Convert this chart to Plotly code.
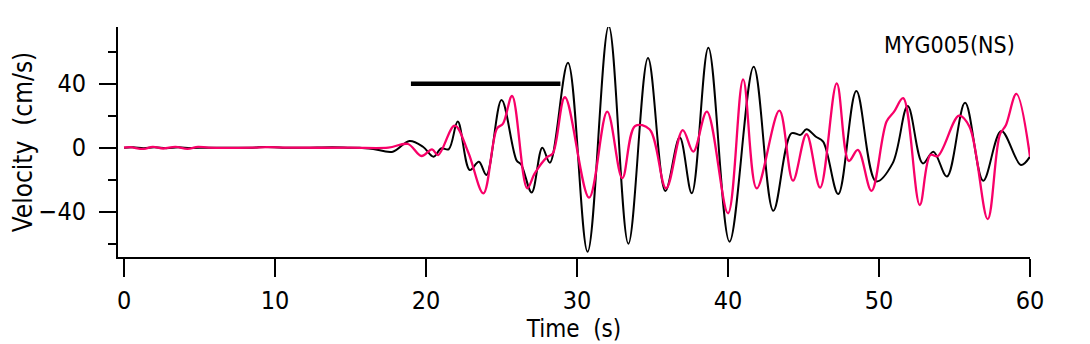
import plotly.graph_objects as go

# Observed (black) velocity waveform: time (s), velocity (cm/s) read at extremes
black_t = [0, 0.6, 1.3, 2.0, 2.8, 3.6, 4.4, 5.5, 8.5, 9.3, 10.5, 12, 13.8, 15.0, 15.6, 16.5,
           17.8, 18.9, 19.8, 20.5, 21.0, 21.5, 22.1, 22.9, 23.5, 24.0, 25.0, 26.0, 26.3, 27.0,
           27.7, 28.2, 29.4, 30.7, 32.1, 33.4, 34.7, 35.85, 36.8, 37.6, 38.7, 40.1, 41.7, 43.0,
           44.2, 44.8, 45.2, 45.8, 46.3, 47.3, 48.5, 49.8, 50.9, 51.9, 52.9, 53.6, 54.5, 55.7,
           56.9, 58.1, 59.4, 60]
black_v = [0, 0.3, -0.3, 0.3, -0.3, 0.2, -0.2, 0, 0, 0.4, 0, 0, 0.3, 0, 0, -0.8,
           -2.5, 4.2, 0.6, -5.6, -0.4, -1.0, 16.3, -14, -8.8, -17, 29.8, -8, -10.5, -28,
           0, -9.4, 53, -65, 76, -60, 56, -27, 6.5, -28.5, 62.5, -58.7, 50.6, -39.4,
           9, 8, 11.5, 7, 3.8, -29, 35.4, -21, -9.8, 26, -9.8, -2.5, -18, 28,
           -20.6, 10.4, -10.8, -5.6]

# Synthetic (pink) velocity waveform
pink_t = [0, 0.4, 1.3, 1.9, 2.6, 3.4, 4.2, 4.9, 5.6, 8.5, 9.5, 11, 15, 17.5, 18.8, 19.7,
          20.4, 20.8, 21.9, 22.8, 23.8, 24.7, 25.1, 25.7, 26.7, 27.2, 28.0, 28.4, 29.2, 30.8,
          32.0, 33.0, 33.85, 34.8, 35.9, 37.0, 37.7, 38.6, 40.0, 41.0, 41.9, 43.4, 44.3, 45.2,
          46.1, 47.2, 48.0, 48.6, 49.5, 50.5, 51.0, 51.6, 52.7, 53.4, 53.9, 55.3, 56.0, 57.2,
          58.0, 58.4, 59.1, 60]
pink_v = [0, 0.3, -0.8, 0.5, -0.5, 0.5, -0.8, 0.5, 0, 0, 0.3, 0, 0, 0, 2.3, -5.2,
          -1, -4.6, 13.8, -3, -28.5, 12, 15, 32.3, -25.4, -16, -6, -3.5, 31.5, -31.2,
          22.5, -19, 13.6, 11.5, -25.4, 11, -2.5, 22.5, -41, 42.7, -25.4, 23.1, -20.6, 8.4,
          -25, 40.2, -8.3, -1.4, -27, 16.3, 22.5, 30.9, -35.8, -4.6, -5.2, 20, 13, -44.6,
          8, 14, 33.6, -5.6]

# Time window bar
bar_t = [19, 28.9]
bar_v = [40, 40]

x_ticks = [0, 10, 20, 30, 40, 50, 60]
y_ticks = [-40, 0, 40]
y_minor = [-60, -20, 20, 60]

FONT = "DejaVu Sans Condensed, Noto Sans CJK JP, sans-serif"

fig = go.Figure()
fig.add_trace(go.Scatter(x=black_t, y=black_v, mode="lines",
                         line=dict(color="black", width=2, shape="spline", smoothing=1.0),
                         showlegend=False))
fig.add_trace(go.Scatter(x=pink_t, y=pink_v, mode="lines",
                         line=dict(color="#f80068", width=2.3, shape="spline", smoothing=1.0),
                         showlegend=False))
fig.add_trace(go.Scatter(x=bar_t, y=bar_v, mode="lines",
                         line=dict(color="black", width=4.5), showlegend=False))

fig.update_layout(
    width=1090, height=344,
    margin=dict(l=110, r=68, t=19, b=95),
    plot_bgcolor="white", paper_bgcolor="white",
    font=dict(family=FONT, size=24, color="black"),
)
fig.add_annotation(text="MYG005(NS)", xref="paper", yref="paper",
                   x=(1017 - 118) / 912, y=(257 - 45) / 230,
                   xanchor="right", yanchor="middle", showarrow=False,
                   font=dict(family=FONT, size=23, color="black"))

fig.update_xaxes(range=[-0.4, 60], tickvals=x_ticks, ticks="outside", ticklen=18,
                 tickwidth=2, tickcolor="black", showline=True, linewidth=2,
                 linecolor="black", showgrid=False, zeroline=False, automargin=False,
                 ticklabelstandoff=2,
                 tickfont=dict(family=FONT, size=25),
                 title=dict(text="Time\u00a0\u00a0(s)", standoff=0,
                            font=dict(family=FONT, size=24)))
fig.update_yaxes(range=[-68.3, 75.4], tickvals=y_ticks, ticks="outside", ticklen=17,
                 tickwidth=2, tickcolor="black", showline=True, linewidth=2,
                 linecolor="black", showgrid=False, zeroline=False, automargin=False,
                 ticklabelstandoff=8,
                 tickfont=dict(family=FONT, size=25),
                 minor=dict(tickvals=y_minor, ticks="outside", ticklen=8,
                            tickwidth=2, tickcolor="black"),
                 title=dict(text="Velocity\u00a0\u00a0(cm/s)", standoff=10,
                            font=dict(family=FONT, size=26)))

fig.write_html("out.html")
